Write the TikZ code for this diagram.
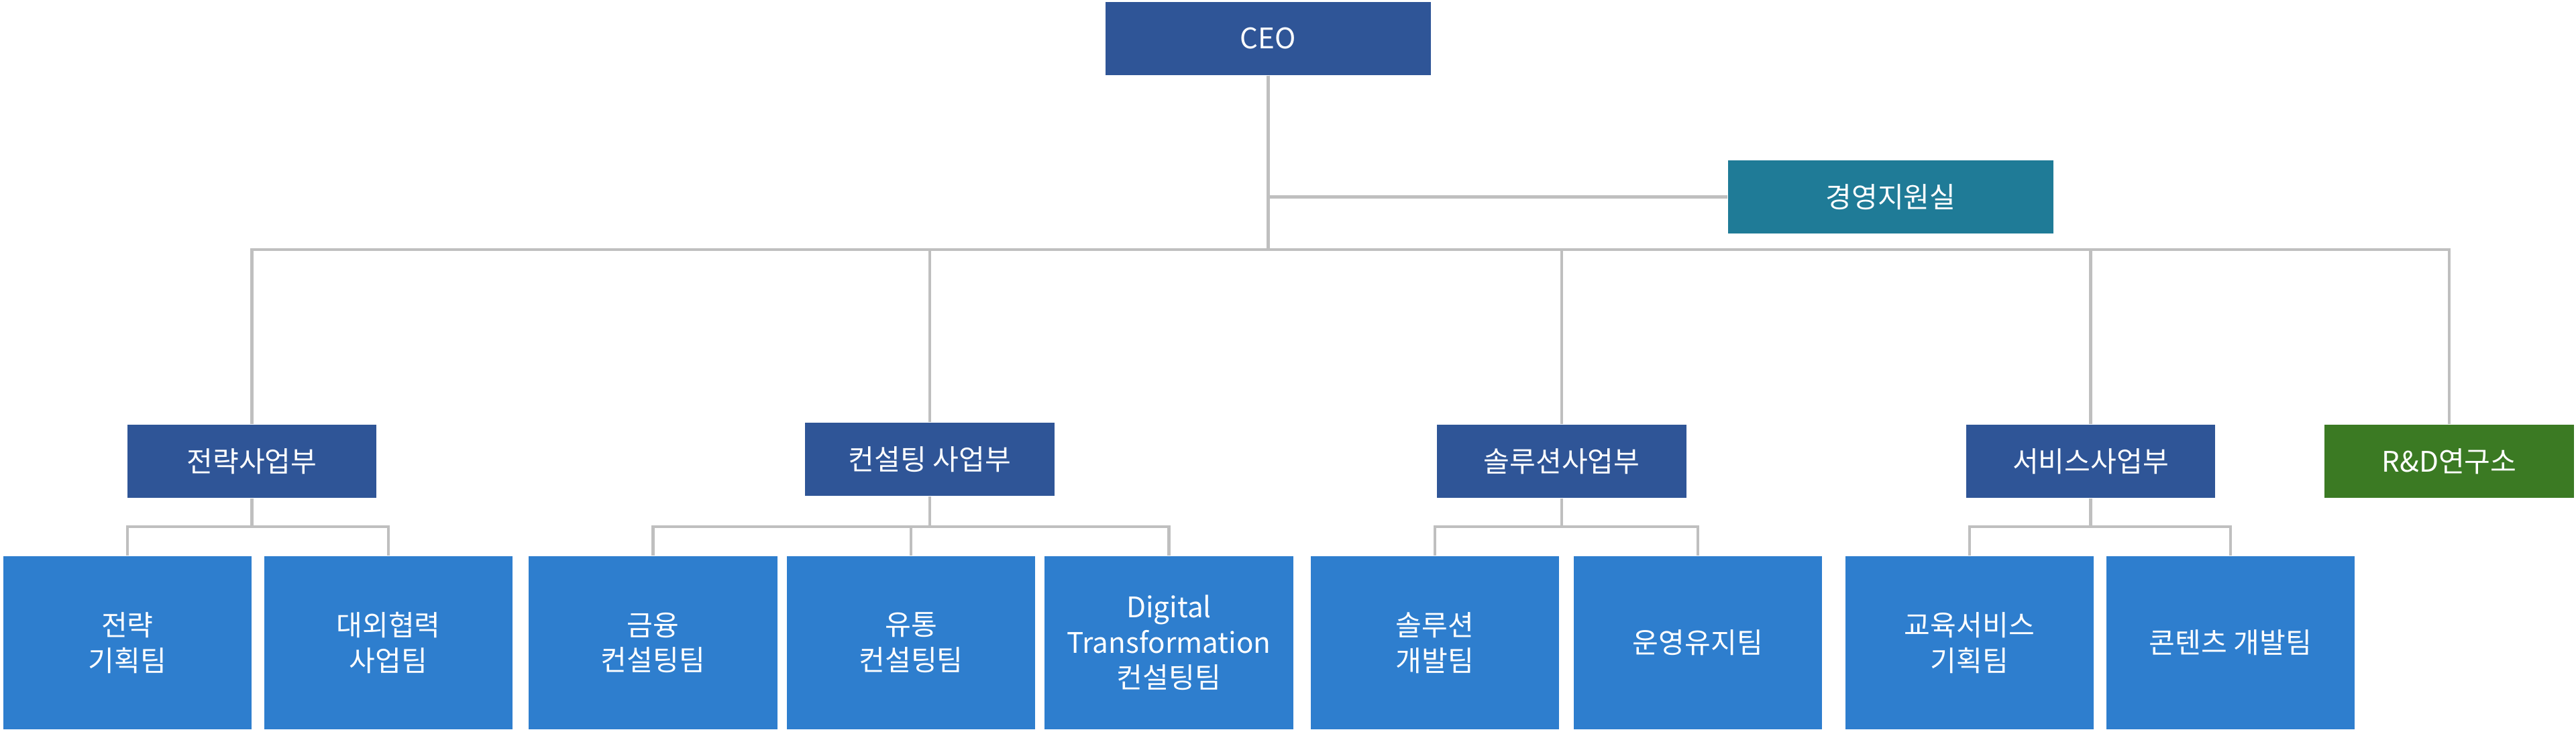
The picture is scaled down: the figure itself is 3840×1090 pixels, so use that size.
\documentclass[tikz,border=0pt]{standalone}
\usepackage{fontspec}
\setmainfont{Noto Sans CJK KR}
\definecolor{dblue}{RGB}{47,85,151}
\definecolor{tblue}{RGB}{46,126,206}
\definecolor{teal}{RGB}{31,123,151}
\definecolor{rdgreen}{RGB}{59,122,35}
\definecolor{conn}{RGB}{191,191,191}
\tikzset{
  box/.style={draw=none, text=white, inner sep=0pt, align=center,
    font=\fontsize{12}{15}\selectfont},
  topbox/.style={box, fill=dblue, minimum width=4.85cm, minimum height=1.09cm},
  staffbox/.style={box, fill=teal, minimum width=4.85cm, minimum height=1.09cm},
  divbox/.style={box, fill=dblue, minimum width=3.71cm, minimum height=1.09cm},
  labbox/.style={box, fill=rdgreen, minimum width=3.71cm, minimum height=1.09cm},
  teambox/.style={box, fill=tblue, minimum width=3.70cm, minimum height=2.58cm},
  link/.style={draw=conn, line width=1.2pt}
}
\begin{document}
\begin{tikzpicture}[x=0.01cm, y=-0.01cm]
\useasboundingbox (0,0) rectangle (3840,1090);
% top
\node[topbox] (ceo) at (1890.5,57.5) {CEO};
\node[staffbox] (staff) at (2818.5,293.5) {경영지원실};
% divisions
\node[divbox] (d1) at (375.5,687.5) {전략사업부};
\node[divbox] (d2) at (1386,684.5) {컨설팅 사업부};
\node[divbox] (d3) at (2328,687.5) {솔루션사업부};
\node[divbox] (d4) at (3116.5,687.5) {서비스사업부};
\node[labbox] (d5) at (3651,687.5) {R\&D연구소};
% teams
\node[teambox] (t1) at (190,958) {전략\\기획팀};
\node[teambox] (t2) at (579,958) {대외협력\\사업팀};
\node[teambox] (t3) at (973.5,958) {금융\\컨설팅팀};
\node[teambox] (t4) at (1358,958) {유통\\컨설팅팀};
\node[teambox] (t5) at (1742.5,958) {Digital\\Transformation\\컨설팅팀};
\node[teambox] (t6) at (2139,958) {솔루션\\개발팀};
\node[teambox] (t7) at (2531,958) {운영유지팀};
\node[teambox] (t8) at (2936,958) {교육서비스\\기획팀};
\node[teambox] (t9) at (3325,958) {콘텐츠 개발팀};
% bus levels
\coordinate (bus) at (0,372);
\coordinate (sub) at (0,785);
% connectors
\begin{scope}[on background layer/.try]
\draw[link] (ceo.south) -- (ceo.south |- staff.west) -- (staff.west);
\foreach \d in {d1,d2,d3,d4,d5}{
  \draw[link] (ceo.south) |- (\d.north |- bus) -- (\d.north);
}
\draw[link] (d1.south) |- (t1.north |- sub) -- (t1.north);
\draw[link] (d1.south) |- (t2.north |- sub) -- (t2.north);
\draw[link] (d2.south) |- (t3.north |- sub) -- (t3.north);
\draw[link] (d2.south) |- (t4.north |- sub) -- (t4.north);
\draw[link] (d2.south) |- (t5.north |- sub) -- (t5.north);
\draw[link] (d3.south) |- (t6.north |- sub) -- (t6.north);
\draw[link] (d3.south) |- (t7.north |- sub) -- (t7.north);
\draw[link] (d4.south) |- (t8.north |- sub) -- (t8.north);
\draw[link] (d4.south) |- (t9.north |- sub) -- (t9.north);
\end{scope}
\end{tikzpicture}
\end{document}
